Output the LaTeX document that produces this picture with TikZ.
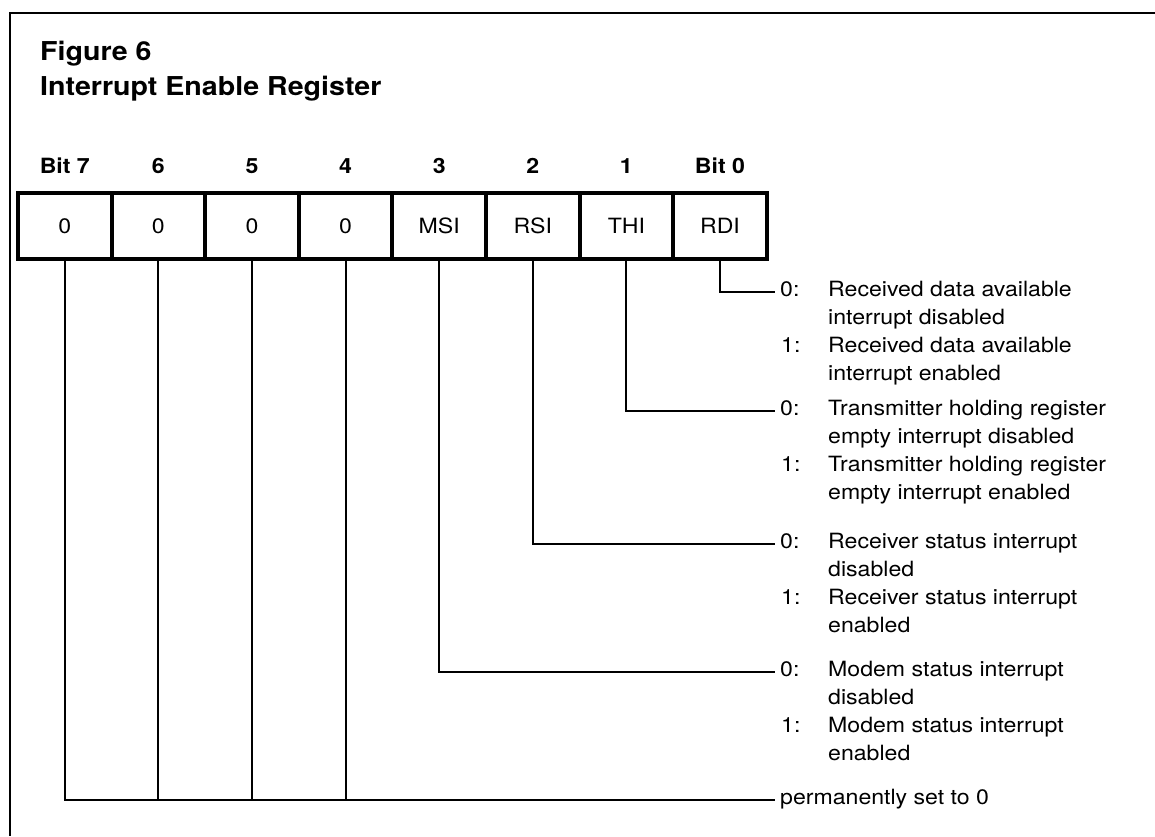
\documentclass[tikz,border=0pt]{standalone}
\usepackage{fontspec}
\setmainfont{TeX Gyre Heros}[FakeStretch=1.1]
\begin{document}
\begin{tikzpicture}[x=1pt,y=-1pt,
  cell/.style={draw,line width=4pt,minimum width=93.6pt,minimum height=66pt,inner sep=0pt,font=\fontsize{21}{25}\selectfont},
  bitlbl/.style={anchor=base,inner sep=0pt,font=\bfseries\fontsize{21}{25}\selectfont},
  titlefont/.style={anchor=base west,inner sep=0pt,font=\bfseries\fontsize{26}{30}\selectfont},
  txt/.style={anchor=base west,inner sep=0pt,font=\fontsize{21}{25}\selectfont},
  conn/.style={line width=2pt},
  framerule/.style={line width=2.5pt}]
\useasboundingbox (0,0) rectangle (1155,836);
% frame
\draw[framerule] (1155,13) -- (10,13) -- (10,836);
% title
\node[titlefont] (t1) at (40,60) {Figure 6};
\node[titlefont] (t2) at (40,95) {Interrupt Enable Register};
% register cells
\node[cell] (c7) at (64.8,226) {0};
\node[cell] (c6) at (158.4,226) {0};
\node[cell] (c5) at (252,226) {0};
\node[cell] (c4) at (345.6,226) {0};
\node[cell] (c3) at (439.2,226) {MSI};
\node[cell] (c2) at (532.8,226) {RSI};
\node[cell] (c1) at (626.4,226) {THI};
\node[cell] (c0) at (720,226) {RDI};
% bit labels
\node[bitlbl] (b7) at (64.8,173) {Bit 7};
\node[bitlbl] (b6) at (158.4,173) {6};
\node[bitlbl] (b5) at (252,173) {5};
\node[bitlbl] (b4) at (345.6,173) {4};
\node[bitlbl] (b3) at (439.2,173) {3};
\node[bitlbl] (b2) at (532.8,173) {2};
\node[bitlbl] (b1) at (626.4,173) {1};
\node[bitlbl] (b0) at (720,173) {Bit 0};
% RDI block
\node[txt] (r0) at (780,296) {0:};
\node[txt] (r0a) at (828,296) {Received data available};
\node[txt] (r0b) at (828,324) {interrupt disabled};
\node[txt] (r1) at (781,352) {1:};
\node[txt] (r1a) at (828,352) {Received data available};
\node[txt] (r1b) at (828,380) {interrupt enabled};
% THI block
\node[txt] (h0) at (780,415) {0:};
\node[txt] (h0a) at (828,415) {Transmitter holding register};
\node[txt] (h0b) at (828,443) {empty interrupt disabled};
\node[txt] (h1) at (781,471) {1:};
\node[txt] (h1a) at (828,471) {Transmitter holding register};
\node[txt] (h1b) at (828,499) {empty interrupt enabled};
% RSI block
\node[txt] (s0) at (780,548) {0:};
\node[txt] (s0a) at (828,548) {Receiver status interrupt};
\node[txt] (s0b) at (828,576) {disabled};
\node[txt] (s1) at (781,604) {1:};
\node[txt] (s1a) at (828,604) {Receiver status interrupt};
\node[txt] (s1b) at (828,632) {enabled};
% MSI block
\node[txt] (m0) at (780,676) {0:};
\node[txt] (m0a) at (828,676) {Modem status interrupt};
\node[txt] (m0b) at (828,704) {disabled};
\node[txt] (m1) at (781,732) {1:};
\node[txt] (m1a) at (828,732) {Modem status interrupt};
\node[txt] (m1b) at (828,760) {enabled};
% permanently
\node[txt] (pz) at (780,804) {permanently set to 0};
% connector ends
\coordinate (er) at ([xshift=-5pt,yshift=4pt]r0.base west);
\coordinate (eh) at ([xshift=-5pt,yshift=4pt]h0.base west);
\coordinate (es) at ([xshift=-5pt,yshift=4pt]s0.base west);
\coordinate (em) at ([xshift=-5pt,yshift=4pt]m0.base west);
\coordinate (ep) at ([xshift=-5pt,yshift=4pt]pz.base west);
% connectors
\draw[conn] (c0.south) |- (er);
\draw[conn] (c1.south) |- (eh);
\draw[conn] (c2.south) |- (es);
\draw[conn] (c3.south) |- (em);
\draw[conn] (c7.south) |- (ep);
\draw[conn] (c6.south) -- (c6.south |- ep);
\draw[conn] (c5.south) -- (c5.south |- ep);
\draw[conn] (c4.south) -- (c4.south |- ep);
\end{tikzpicture}
\end{document}
